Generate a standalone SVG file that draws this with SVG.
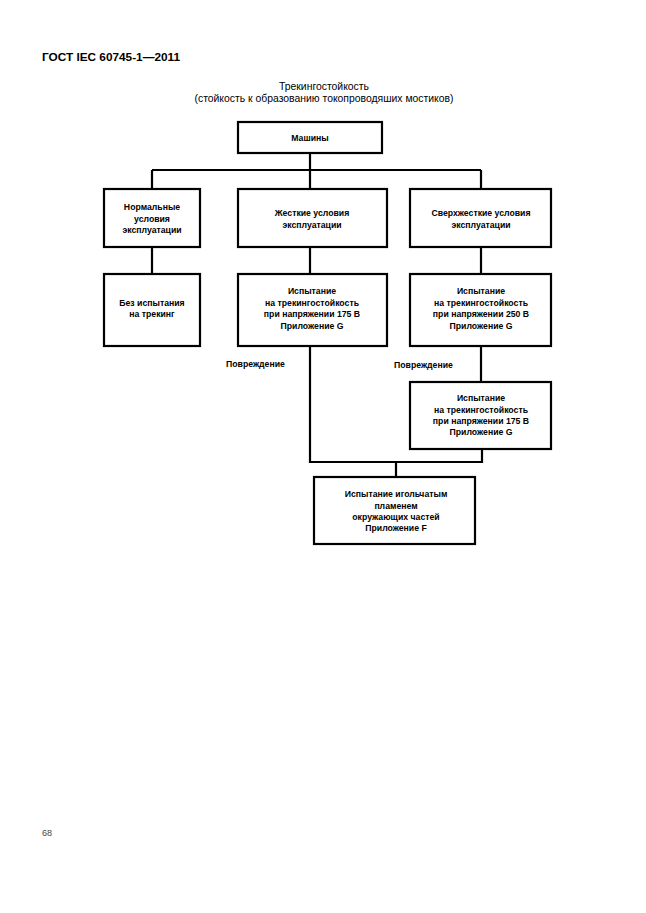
<svg xmlns="http://www.w3.org/2000/svg" width="646" height="913" viewBox="0 0 646 913">
<style>
.box{fill:#fff;stroke:#000;stroke-width:2.2}
.ln{fill:none;stroke:#000;stroke-width:2.2}
.t{font-family:"Liberation Sans",Arial,sans-serif;font-size:8.7px;font-weight:bold;text-anchor:middle;fill:#000}
.lbl{font-family:"Liberation Sans",Arial,sans-serif;font-size:8.7px;font-weight:bold;fill:#000}
.title{font-family:"Liberation Sans",Arial,sans-serif;font-size:10.4px;text-anchor:middle;fill:#000}
</style>
<rect width="646" height="913" fill="#fff"/>
<text x="42" y="61" font-family="Liberation Sans,Arial,sans-serif" font-size="11.8" font-weight="bold">ГОСТ IEC 60745-1—2011</text>
<text class="title" x="324" y="90">Трекингостойкость</text>
<text class="title" x="324" y="102">(стойкость к образованию токопроводяших мостиков)</text>
<g id="connectors">
<path class="ln" d="M310 153V188M152 170H481M152 170V188M481 170V188"/>
<path class="ln" d="M152 247V274M310 247V274M481 247V274"/>
<path class="ln" d="M310 346V462H482V449M481 346V382M396 462V477"/>
</g>
<g id="n1"><rect class="box" x="238" y="122" width="144" height="31"/><text class="t" x="310" y="140.5">Машины</text></g>
<g id="n2"><rect class="box" x="104" y="189" width="96" height="58"/><text class="t" x="152" y="210">Нормальные</text><text class="t" x="152" y="221.5">условия</text><text class="t" x="152" y="233">эксплуатации</text></g>
<g id="n3"><rect class="box" x="238" y="189" width="149" height="58"/><text class="t" x="312" y="216">Жесткие условия</text><text class="t" x="312" y="228">эксплуатации</text></g>
<g id="n4"><rect class="box" x="410" y="189" width="141" height="58"/><text class="t" x="481" y="216">Сверхжесткие условия</text><text class="t" x="481" y="228">эксплуатации</text></g>
<g id="n5"><rect class="box" x="104" y="274" width="96" height="72"/><text class="t" x="152" y="306">Без испытания</text><text class="t" x="152" y="317">на трекинг</text></g>
<g id="n6"><rect class="box" x="238" y="274" width="149" height="72"/><text class="t" x="312" y="294">Испытание</text><text class="t" x="312" y="305.5">на трекингостойкость</text><text class="t" x="312" y="317">при напряжении 175 В</text><text class="t" x="312" y="328.5">Приложение G</text></g>
<g id="n7"><rect class="box" x="410" y="274" width="141" height="72"/><text class="t" x="481" y="294">Испытание</text><text class="t" x="481" y="305.5">на трекингостойкость</text><text class="t" x="481" y="317">при напряжении 250 В</text><text class="t" x="481" y="328.5">Приложение G</text></g>
<g id="l1"><text class="lbl" x="226" y="367">Повреждение</text></g>
<g id="l2"><text class="lbl" x="394" y="368">Повреждение</text></g>
<g id="n8"><rect class="box" x="410" y="382" width="141" height="67"/><text class="t" x="481" y="401">Испытание</text><text class="t" x="481" y="412.5">на трекингостойкость</text><text class="t" x="481" y="424">при напряжении 175 В</text><text class="t" x="481" y="435">Приложение G</text></g>
<g id="n9"><rect class="box" x="314" y="477" width="161" height="67"/><text class="t" x="396" y="497">Испытание игольчатым</text><text class="t" x="396" y="508.5">пламенем</text><text class="t" x="396" y="520">окружающих частей</text><text class="t" x="396" y="531">Приложение F</text></g>
<text x="42" y="836" font-family="Liberation Sans,Arial,sans-serif" font-size="9" fill="#444">68</text>
</svg>
